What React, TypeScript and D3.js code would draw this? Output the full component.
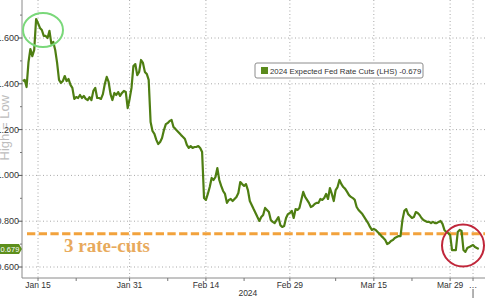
import React from "react";
import * as d3 from "d3";

// Expected number of 2024 Fed cuts, sampled every quarter trading day
const values: number[] = [
  1.412, 1.417, 1.386, 1.495, 1.552, 1.521, 1.548, 1.683, 1.665, 1.644, 1.635, 1.609, 1.609, 1.6, 1.631, 1.574, 1.583, 1.548, 1.491, 1.417, 1.404,
  1.412, 1.434, 1.412, 1.421, 1.395, 1.382, 1.334, 1.342, 1.338, 1.351, 1.338, 1.347, 1.334, 1.329, 1.342, 1.329, 1.369, 1.382, 1.338, 1.338,
  1.334, 1.355, 1.399, 1.43, 1.408, 1.355, 1.329, 1.36, 1.351, 1.364, 1.347, 1.36, 1.369, 1.364, 1.294, 1.334, 1.382, 1.478, 1.486, 1.438,
  1.452, 1.504, 1.491, 1.452, 1.443, 1.417, 1.233, 1.194, 1.181, 1.155, 1.137, 1.146, 1.163, 1.198, 1.224, 1.229, 1.238, 1.242, 1.211, 1.203,
  1.194, 1.185, 1.176, 1.168, 1.159, 1.133, 1.12, 1.128, 1.12, 1.124, 1.124, 1.128, 1.12, 1.102, 0.901, 0.893, 0.919, 0.949, 0.989, 0.98,
  0.993, 1.032, 0.98, 0.954, 0.932, 0.919, 0.88, 0.893, 0.897, 0.888, 0.897, 0.906, 0.923, 0.971, 0.962, 0.954, 0.962, 0.936, 0.888, 0.871,
  0.853, 0.836, 0.818, 0.801, 0.818, 0.827, 0.858, 0.849, 0.84, 0.805, 0.797, 0.792, 0.805, 0.818, 0.783, 0.775, 0.779, 0.814, 0.831, 0.836,
  0.845, 0.814, 0.853, 0.849, 0.858, 0.893, 0.928, 0.906, 0.893, 0.88, 0.862, 0.866, 0.875, 0.88, 0.88, 0.897, 0.893, 0.901, 0.919, 0.897,
  0.945, 0.919, 0.888, 0.936, 0.949, 0.98, 0.962, 0.949, 0.941, 0.928, 0.914, 0.906, 0.901, 0.893, 0.862, 0.849, 0.84, 0.831, 0.818, 0.805,
  0.792, 0.775, 0.762, 0.766, 0.762, 0.753, 0.744, 0.735, 0.727, 0.718, 0.7, 0.705, 0.714, 0.718, 0.727, 0.731, 0.735, 0.735, 0.805, 0.845,
  0.853, 0.831, 0.823, 0.814, 0.818, 0.84, 0.836, 0.827, 0.814, 0.805, 0.801, 0.797, 0.797, 0.792, 0.797, 0.792, 0.792, 0.797, 0.801, 0.788,
  0.762, 0.753, 0.748, 0.74, 0.674, 0.674, 0.674, 0.753, 0.762, 0.757, 0.674, 0.666, 0.683, 0.687, 0.692, 0.696, 0.687, 0.683, 0.679,
];
// trading-day offset (relative to Jan 15) of first sample, and sample spacing in trading days
const startDay = -2;
const dayStep = 0.25;

const majorTickDays = [0, 12, 22, 33, 44, 54, 57];
const majorTickLabels = ["Jan 15", "Jan 31", "Feb 14", "Feb 29", "Mar 15", "Mar 29", "…"];
const minorTickDays = [5, 17, 27, 39, 49];
const yTicks = [0.6, 0.8, 1.0, 1.2, 1.4, 1.6];
const yMinorTicks = [0.7, 0.9, 1.1, 1.3, 1.5, 1.7];
const yearLabel = "2024";
const seriesName = "2024 Expected Fed Rate Cuts (LHS)";
const rateCutLevel = 0.745;
const rateCutLabel = "3 rate-cuts";
const yAxisTitle = "High = Low";

const W = 485;
const H = 298;
const left = 22;
const bottom = 278;

export default function App() {
  const x = d3.scaleLinear().domain([-2.1, 58.7]).range([22, 486]);
  const y = d3.scaleLinear().domain([0.6, 1.6]).range([267, 38]);
  const fmt = d3.format(".3f");
  const last = values[values.length - 1];

  const line = d3
    .line<number>()
    .x((_, i) => x(startDay + i * dayStep))
    .y((v) => y(v));

  const font = "'Liberation Sans', Arial, sans-serif";
  const tagY = y(last);

  return (
    <div style={{ position: "fixed", left: 0, top: 0, width: W, height: H, background: "#fff" }}>
      <svg width={W} height={H} style={{ display: "block" }} fontFamily={font}>
        <rect x={0} y={0} width={W} height={H} fill="#fff" />
        {/* y axis title */}
        <text transform={`translate(9,95) rotate(-90)`} textAnchor="end" fontSize={13} fill="#bdbdbd">
          {yAxisTitle}
        </text>
        {/* horizontal grid */}
        {yTicks.map((t) => (
          <line
            key={"hg" + t}
            x1={left}
            x2={W}
            y1={y(t)}
            y2={y(t)}
            stroke="#a8a8a8"
            strokeWidth={1}
            strokeDasharray="1,2.5"
          />
        ))}
        {/* vertical grid */}
        {majorTickDays.map((d) => (
          <line
            key={"vg" + d}
            x1={x(d)}
            x2={x(d)}
            y1={0}
            y2={bottom}
            stroke="#a8a8a8"
            strokeWidth={1}
            strokeDasharray="1,2.5"
          />
        ))}
        {/* axes */}
        <line x1={left} x2={left} y1={0} y2={bottom} stroke="#8a8a8a" strokeWidth={1} />
        <line x1={left} x2={W} y1={bottom} y2={bottom} stroke="#8a8a8a" strokeWidth={1} />
        {yTicks.map((t) => (
          <g key={"yt" + t}>
            <line x1={left - 4} x2={left} y1={y(t)} y2={y(t)} stroke="#555" strokeWidth={1} />
            <text x={19} y={y(t) + 3} textAnchor="end" fontSize={9} fill="#333">
              {fmt(t)}
            </text>
          </g>
        ))}
        {yMinorTicks.map((t) => (
          <line key={"ym" + t} x1={left - 2} x2={left} y1={y(t)} y2={y(t)} stroke="#777" strokeWidth={1} />
        ))}
        {majorTickDays.map((d, i) => (
          <g key={"xt" + d}>
            <line x1={x(d)} x2={x(d)} y1={bottom} y2={bottom + 3} stroke="#777" strokeWidth={1} />
            <text x={x(d)} y={287.5} textAnchor="middle" fontSize={8.5} fill="#333">
              {majorTickLabels[i]}
            </text>
          </g>
        ))}
        {minorTickDays.map((d) => (
          <line key={"xm" + d} x1={x(d)} x2={x(d)} y1={bottom} y2={bottom + 3} stroke="#777" strokeWidth={1} />
        ))}
        <line
          x1={x(majorTickDays[majorTickDays.length - 1])}
          x2={x(majorTickDays[majorTickDays.length - 1])}
          y1={289}
          y2={H}
          stroke="#666"
          strokeWidth={1}
        />
        <text x={x(33) - 42} y={296} textAnchor="middle" fontSize={8.5} fill="#333">
          {yearLabel}
        </text>
        {/* 3 rate cuts dashed line */}
        <line
          x1={27}
          x2={W}
          y1={y(rateCutLevel)}
          y2={y(rateCutLevel)}
          stroke="#f2a23c"
          strokeWidth={3}
          strokeDasharray="8.3,3.4"
        />
        <text
          x={64}
          y={y(rateCutLevel) + 18}
          fontFamily="'Liberation Serif', 'Times New Roman', serif"
          fontWeight="bold"
          fontSize={19}
          fill="#e8aa5c"
        >
          {rateCutLabel}
        </text>
        {/* series */}
        <path d={line(values) ?? ""} fill="none" stroke="#4e7e12" strokeWidth={2.2} strokeLinejoin="round" />
        {/* last value tag */}
        <path d={`M0,${tagY - 5} L19,${tagY - 5} L22,${tagY} L19,${tagY + 5} L0,${tagY + 5} Z`} fill="#5d8f1c" />
        <text x={10} y={tagY + 2.7} textAnchor="middle" fontSize={7.5} fill="#fff">
          {fmt(last)}
        </text>
        {/* legend */}
        <rect x={255} y={63} width={168} height={15} rx={2} fill="#fff" stroke="#8c8c8c" strokeWidth={1} />
        <rect x={261} y={67} width={7} height={7} fill="#5a8a1c" />
        <text x={270} y={73.8} fontSize={7.8} fill="#333">
          {`${seriesName} -${fmt(last)}`}
        </text>
        {/* annotation circles */}
        <ellipse cx={43} cy={30} rx={20} ry={17} fill="none" stroke="#7ad87a" strokeWidth={2} />
        <circle cx={463} cy={245.5} r={21} fill="none" stroke="#c0263a" strokeWidth={2} />
      </svg>
    </div>
  );
}
